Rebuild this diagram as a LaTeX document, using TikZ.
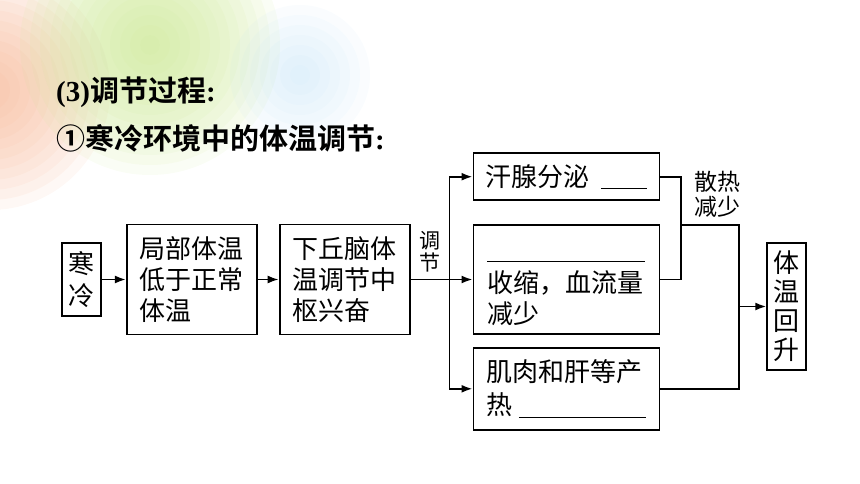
\documentclass[tikz,border=0pt]{standalone}
\usepackage{fontspec}
\setmainfont{Liberation Serif}
\newfontfamily\cjk[BoldFont={Noto Sans CJK SC Bold}]{Noto Sans CJK SC}
\usetikzlibrary{
    arrows.meta,
    positioning
}
\definecolor{blobred}{RGB}{246,176,140}
\definecolor{blobgreen}{RGB}{200,230,140}
\definecolor{blobblue}{RGB}{185,222,245}

\begin{document}
\begin{tikzpicture}[x=1pt, y=-1pt, line width=1.8pt,
    box/.style={draw, align=left, inner sep=0pt, font=\cjk\fontsize{26}{31}\selectfont},
    tall/.style={draw, align=center, inner sep=0pt, minimum width=39pt, font=\cjk\fontsize{26}{32}\selectfont},
    flow/.style={-{Latex[length=11pt,width=8pt]}}]
    \useasboundingbox (0,0) rectangle (860,484);
    \foreach \r in {10,20,...,120}
        \fill[blobred, opacity=0.09] (-10,90) circle ({\r pt});
    \foreach \r in {10,20,...,130}
        \fill[blobgreen, opacity=0.09] (150,45) circle ({\r pt});
    \foreach \r in {10,20,...,70}
        \fill[blobblue, opacity=0.08] (300,75) circle ({\r pt});
    \node[anchor=west, font=\fontsize{29}{34}\selectfont\bfseries] (step3) at (52,92) {(3){\cjk\bfseries 调节过程}:};
    \node[anchor=west, font=\fontsize{29}{34}\selectfont\bfseries] (coldtitle) at (52,138) {{\cjk\bfseries ①寒冷环境中的体温调节}:};
    \node[tall, minimum height=73pt] (cold) at (81.5,279.5) {寒\\冷};
    \node[box, minimum width=130pt, minimum height=110pt, right=24pt of cold] (local) {局部体温\\低于正常\\体温};
    \node[box, minimum width=130pt, minimum height=110pt, right=21pt of local] (center) {下丘脑体\\温调节中\\枢兴奋};
    \node[box, minimum width=186pt, minimum height=109pt, right=62pt of center] (vessel) {\rule{0pt}{29pt}\rule{158pt}{1.2pt}\\收缩，血流量\\减少};
    \node[box, minimum width=186pt, minimum height=47pt, above=23pt of vessel] (sweat) {汗腺分泌\ \ \rule[-3pt]{46pt}{1.2pt}};
    \node[box, minimum width=186pt, minimum height=82pt, below=12pt of vessel, font=\cjk\fontsize{26}{33}\selectfont] (muscle) {肌肉和肝等产\\热\ \rule[-3pt]{127pt}{1.2pt}};
    \node[tall, minimum height=127pt, right=106pt of vessel, yshift=-27pt, font=\cjk\fontsize{26}{29}\selectfont] (rise) {体\\温\\回\\升};
    \draw[flow] (cold) -- (local);
    \draw[flow] (local) -- (center);
    \coordinate (split) at ([xshift=39pt]center.east);
    \draw (center.east) -- node[above=3pt, align=center, font=\cjk\fontsize{21}{22}\selectfont] (adjust) {调\\节} (split);
    \draw[flow] (split) -- (vessel.west);
    \draw[flow] (split) |- (sweat);
    \draw[flow] (split) |- (muscle);
    \coordinate (hx) at ([xshift=21pt]sweat.east);
    \draw (sweat.east) -- (hx) |- (vessel.east);
    \coordinate (heat) at ([yshift=-48pt]hx);
    \coordinate (mx) at ([xshift=-27pt]rise.west);
    \draw (heat) -| (mx) |- (muscle.east);
    \draw[flow] (mx) -- (rise.west);
    \node[anchor=south west, align=left, font=\cjk\fontsize{23}{25}\selectfont] (less) at ([xshift=9pt,yshift=3pt]heat) {散热\\减少};
\end{tikzpicture}
\end{document}
